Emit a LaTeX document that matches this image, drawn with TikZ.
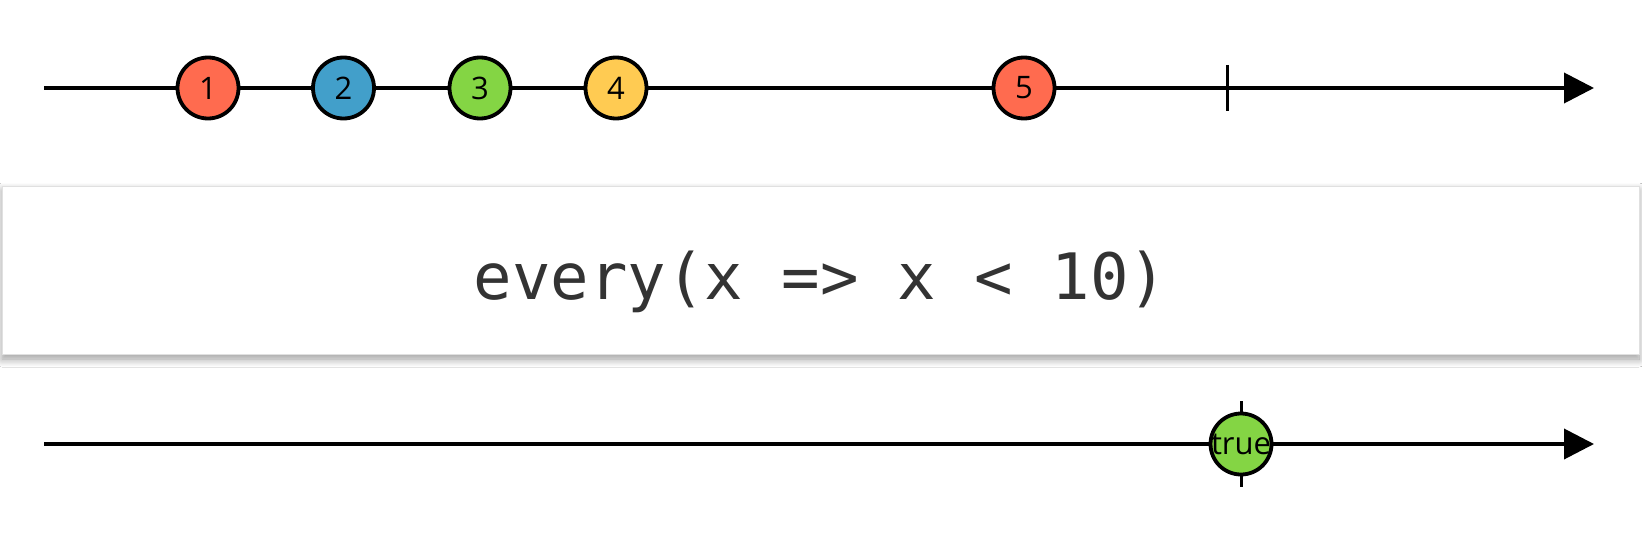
\documentclass[tikz,border=0pt]{standalone}
\usepackage{fontspec}
\setsansfont{Open Sans}
\setmonofont{DejaVu Sans Mono}
\usetikzlibrary{arrows.meta,shadows.blur}
\definecolor{mred}{HTML}{FF6B4F}
\definecolor{mblue}{HTML}{429FCA}
\definecolor{mgreen}{HTML}{84D544}
\definecolor{myellow}{HTML}{FFCB52}
\definecolor{codegray}{HTML}{333333}
\tikzset{
  timeline/.style={line width=1.9pt,-{Triangle[length=15pt,width=15pt]}},
  tickmark/.style={line width=1.5pt},
  marble/.style={circle,draw=black,line width=1.9pt,minimum size=30.5pt,inner sep=0pt,
    font=\sffamily\fontsize{15.5}{15.5}\selectfont},
  opbox/.style={draw=black!12,fill=white,line width=0.5pt,minimum width=818.5pt,minimum height=84pt,
    blur shadow={shadow xshift=0pt,shadow yshift=-2.5pt,shadow blur steps=10,shadow blur radius=4pt,shadow opacity=40},
    font=\ttfamily\fontsize{32}{36}\selectfont,text=codegray,text height=29.5pt,text depth=0pt}
}
\begin{document}
\begin{tikzpicture}[x=0.5pt,y=-0.5pt]
    \useasboundingbox[fill=white] (0,0) rectangle (1642,540);
    % source stream
    \coordinate (a0) at (44,88); \coordinate (a1) at (1594,88); \coordinate (aend) at (1227,88);
    \draw[timeline] (a0) -- (a1);
    \draw[tickmark] ([yshift=11.5pt]aend) -- ([yshift=-11.5pt]aend);
    \foreach \x/\n/\c in {208/1/mred,343.5/2/mblue,480/3/mgreen,616/4/myellow,1024/5/mred}
        \node[marble,fill=\c] (m\n) at (\x,88) {\n};

    % operator
    \node[opbox] (op) at (820.5,270) {every(x => x < 10)};

    % result stream
    \coordinate (b0) at (44,444); \coordinate (b1) at (1594,444); \coordinate (bend) at (1241,444);
    \draw[timeline] (b0) -- (b1);
    \draw[tickmark] ([yshift=21.5pt]bend) -- ([yshift=-21.5pt]bend);
    \node[marble,fill=mgreen] (res) at (bend) {\makebox[0pt]{true}};
\end{tikzpicture}
\end{document}
